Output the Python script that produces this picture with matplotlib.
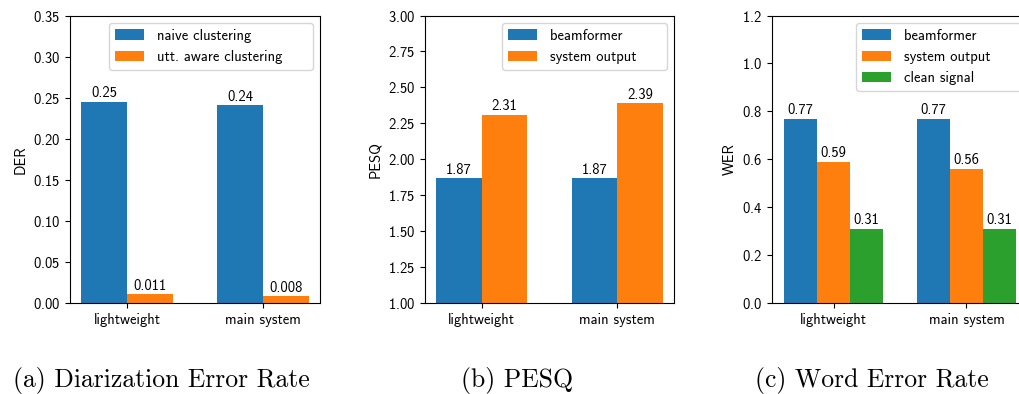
import matplotlib
matplotlib.use("Agg")
import matplotlib.pyplot as plt
import numpy as np

plt.rcParams['font.family'] = 'cmss10'
plt.rcParams['axes.unicode_minus'] = False
plt.rcParams['axes.formatter.use_mathtext'] = True

# data
systems = ["lightweight", "main system"]

der_naive = [0.245, 0.241]
der_utt = [0.011, 0.0085]
der_naive_txt = ["0.25", "0.24"]
der_utt_txt = ["0.011", "0.008"]

pesq_bf = [1.87, 1.87]
pesq_out = [2.31, 2.39]

wer_bf = [0.77, 0.77]
wer_out = [0.59, 0.56]
wer_clean = [0.31, 0.31]

captions = ["(a) Diarization Error Rate", "(b) PESQ", "(c) Word Error Rate"]

W, H = 1019, 394
fig = plt.figure(figsize=(W / 100, H / 100), dpi=100)

def px_axes(x0, x1, y0=15.5, y1=303):
    return fig.add_axes([x0 / W, (H - y1) / H, (x1 - x0) / W, (y1 - y0) / H])

FS = 10.5
PAD = "     "  # legend boxes in the original have extra room on the right
x = np.arange(len(systems))

# (a) DER
ax1 = px_axes(70, 320)
w = 0.335
b1 = ax1.bar(x - w / 2, der_naive, w, label="naive clustering" + PAD)
b2 = ax1.bar(x + w / 2, der_utt, w, label="utt. aware clustering" + PAD)
ax1.bar_label(b1, labels=der_naive_txt, fontsize=FS, padding=1)
ax1.bar_label(b2, labels=der_utt_txt, fontsize=FS, padding=1)
ax1.set_ylim(0, 0.35)
ax1.set_yticks(np.arange(0, 0.351, 0.05))
ax1.set_ylabel("DER", fontsize=FS)
ax1.legend(loc="upper right", fontsize=FS, handletextpad=0.9)

# (b) PESQ
ax2 = px_axes(425, 674)
b1 = ax2.bar(x - w / 2, pesq_bf, w, label="beamformer" + PAD)
b2 = ax2.bar(x + w / 2, pesq_out, w, label="system output" + PAD)
ax2.bar_label(b1, fmt="%.2f", fontsize=FS, padding=1)
ax2.bar_label(b2, fmt="%.2f", fontsize=FS, padding=1)
ax2.set_ylim(1.0, 3.0)
ax2.set_yticks(np.arange(1.0, 3.001, 0.25))
ax2.set_ylabel("PESQ", fontsize=FS)
ax2.legend(loc="upper right", fontsize=FS, handletextpad=0.9)

# (c) WER
ax3 = px_axes(772, 1028)
w3 = 0.25
b1 = ax3.bar(x - w3, wer_bf, w3, label="beamformer" + PAD)
b2 = ax3.bar(x, wer_out, w3, label="system output" + PAD)
b3 = ax3.bar(x + w3, wer_clean, w3, label="clean signal" + PAD)
for b in (b1, b2, b3):
    ax3.bar_label(b, fmt="%.2f", fontsize=FS, padding=1)
ax3.set_ylim(0, 1.2)
ax3.set_yticks(np.arange(0, 1.201, 0.2))
ax3.set_ylabel("WER", fontsize=FS)
ax3.legend(loc="upper right", fontsize=FS, handletextpad=0.9)

for ax in (ax1, ax2, ax3):
    ax.set_xticks(x)
    ax.set_xticklabels(systems)
    ax.tick_params(labelsize=FS)

for cx, cap in zip([161, 517, 872], captions):
    fig.text(cx / W, (H - 381) / H, cap, family='cmr10', fontsize=18.5,
             ha='center', va='center')

fig.savefig("out.png", dpi=100)
